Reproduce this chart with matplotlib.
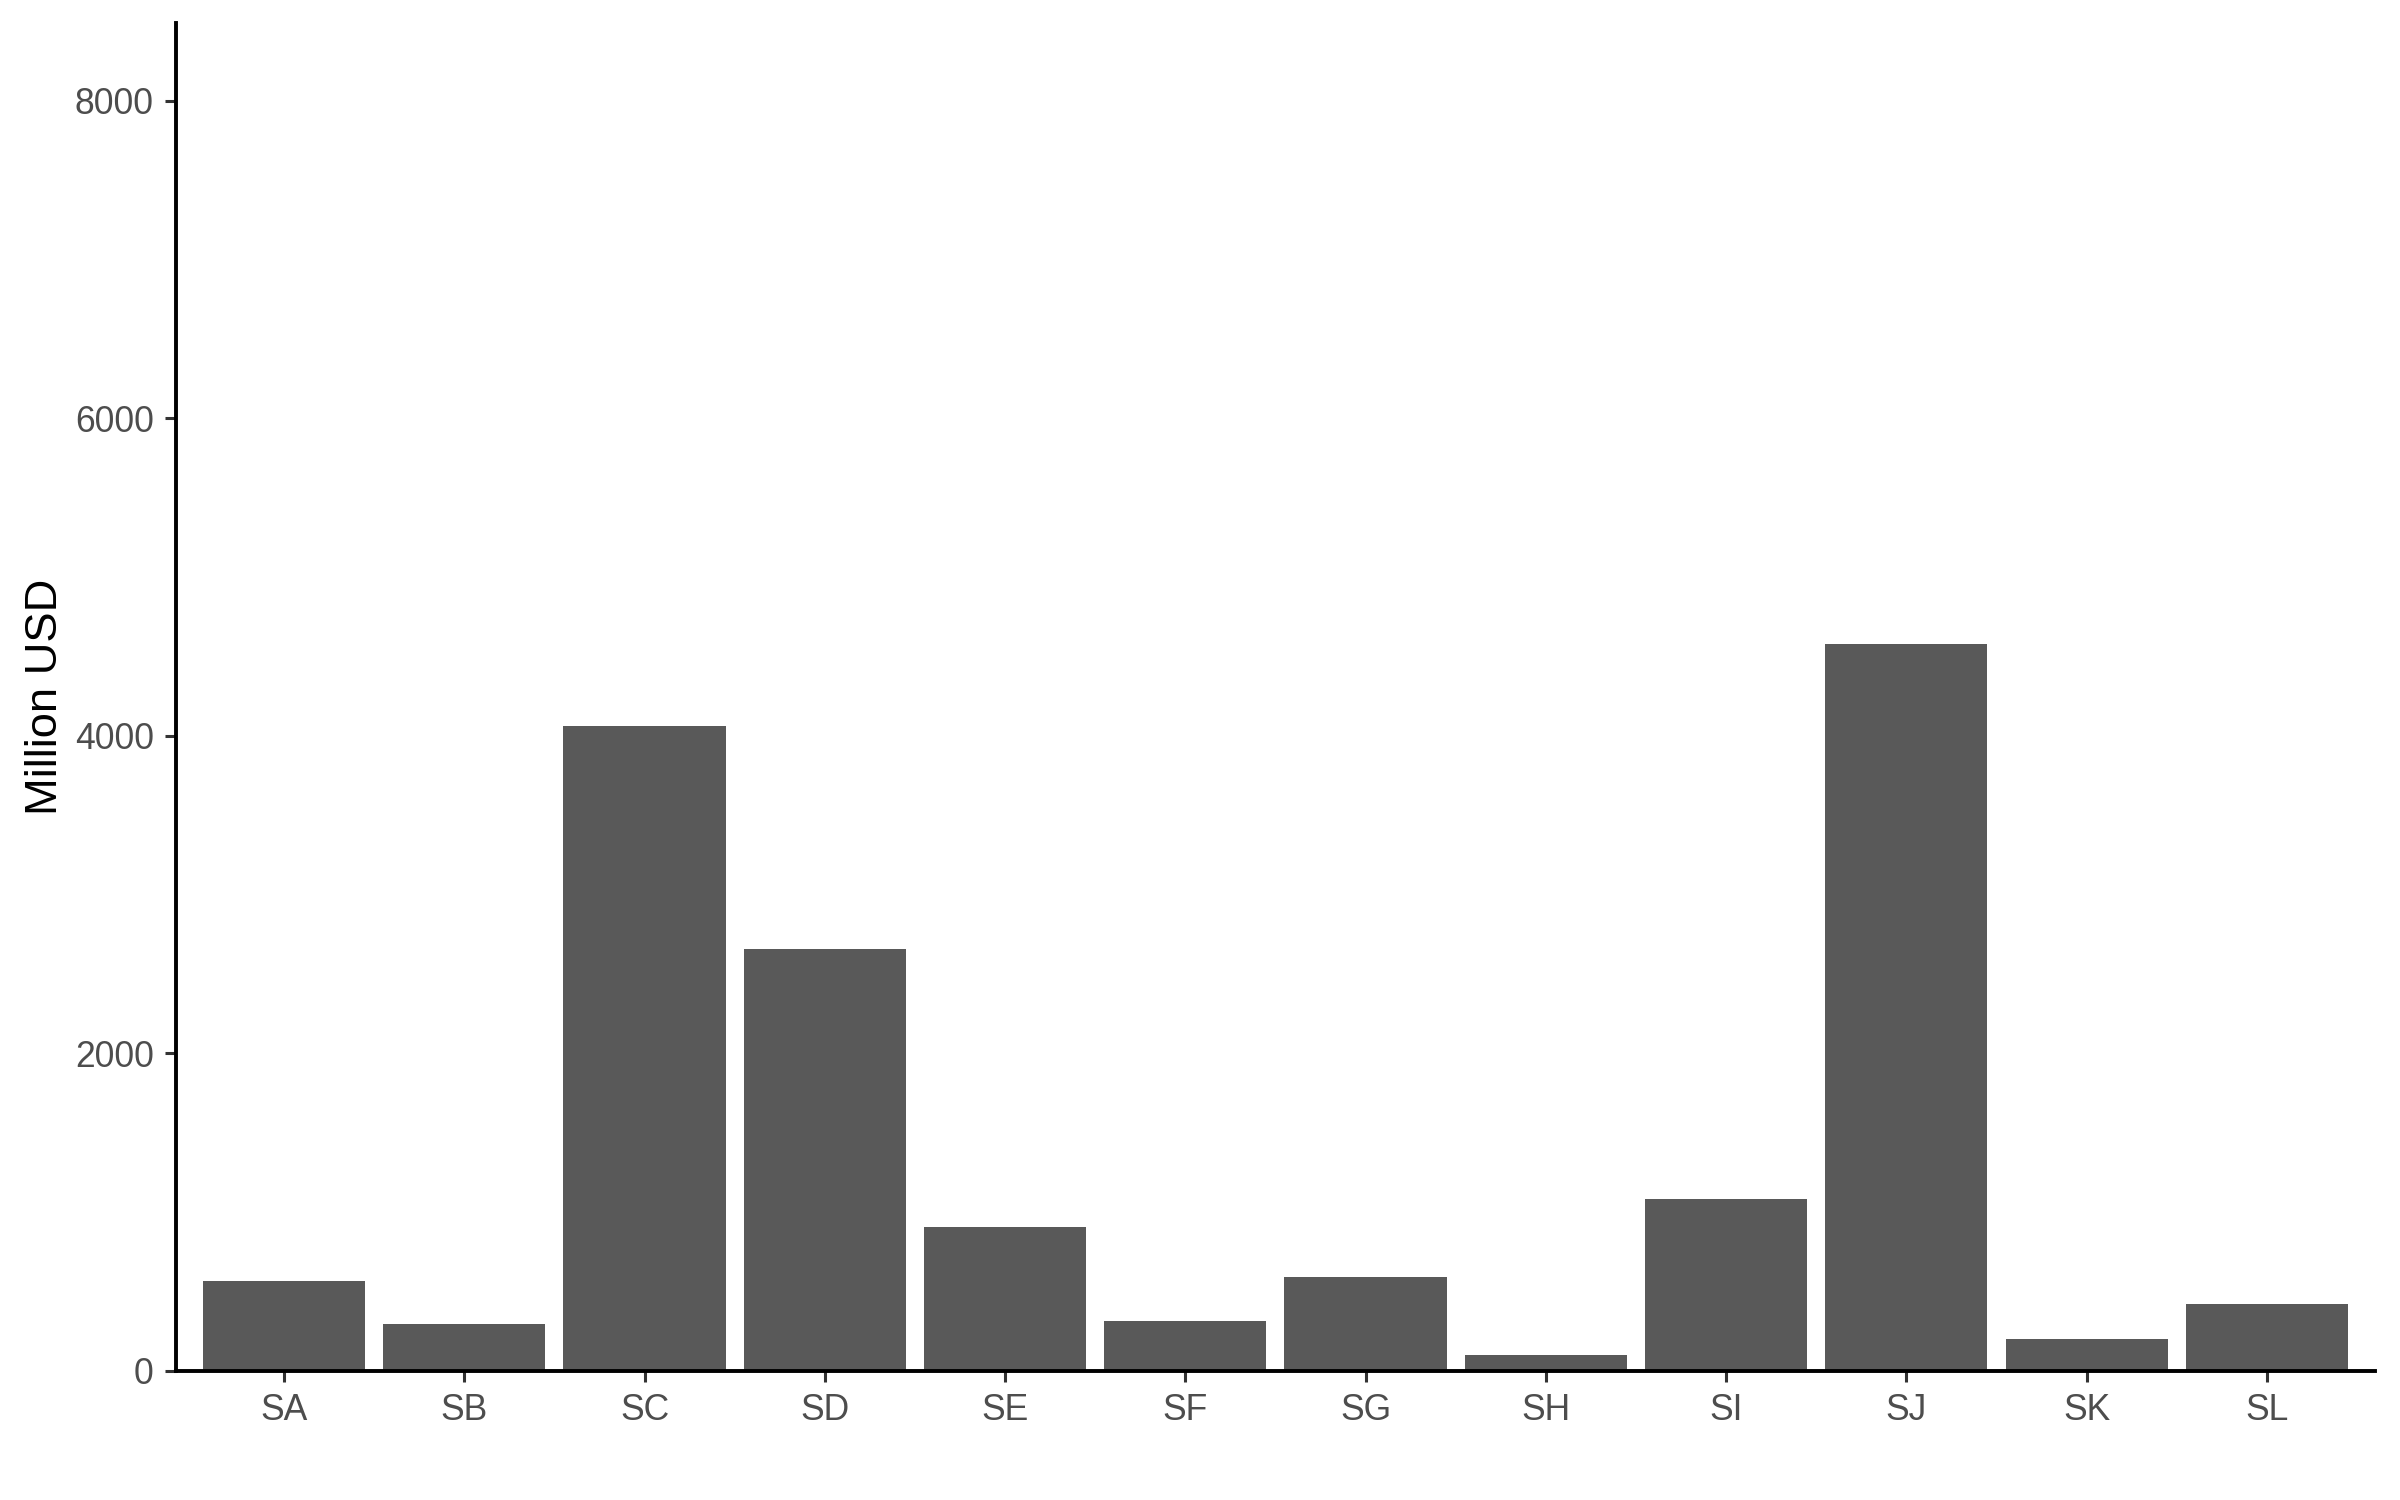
import matplotlib
matplotlib.use("Agg")
import matplotlib.pyplot as plt

categories = ["SA", "SB", "SC", "SD", "SE", "SF", "SG", "SH", "SI", "SJ", "SK", "SL"]
values = [567, 296, 4063, 2658, 907, 315, 592, 101, 1086, 4580, 202, 422]
yticks = [0, 2000, 4000, 6000, 8000]

plt.rcParams['font.family'] = ['Liberation Sans', 'DejaVu Sans']

fig = plt.figure(figsize=(12, 7.5), dpi=200)
ax = fig.add_axes([0.0733, 0.086, 0.9163, 0.8987])

x = list(range(len(categories)))
ax.bar(x, values, width=0.9, color="#595959", zorder=2)

ax.set_xlim(-0.6, len(categories) - 0.4)
ax.set_ylim(0, 8490)
ax.set_xticks(x)
ax.set_xticklabels(categories)
ax.set_yticks(yticks)
ax.set_yticklabels([str(v) for v in yticks])

for s in ["top", "right"]:
    ax.spines[s].set_visible(False)
for s in ["left", "bottom"]:
    ax.spines[s].set_linewidth(1.4)
    ax.spines[s].set_color("black")

ax.tick_params(axis="both", length=4, width=1.1, color="#333333",
               labelcolor="#4d4d4d", labelsize=12.8, pad=4)
ax.set_ylabel("Million USD", fontsize=16.3, color="black", labelpad=3)

fig.savefig("out.png", dpi=200, facecolor="white")
